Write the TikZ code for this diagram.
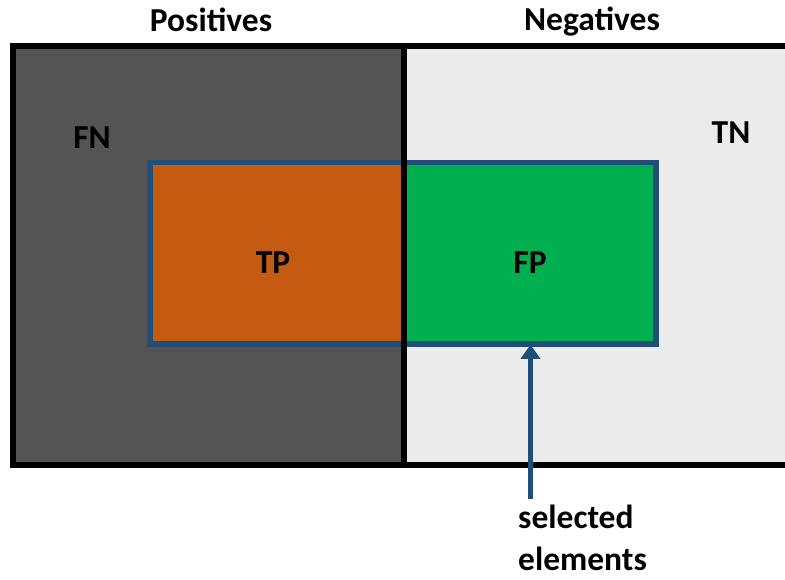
\documentclass[tikz,border=0pt]{standalone}
\usepackage{fontspec}
\setmainfont{Carlito}
\usetikzlibrary{arrows.meta}
\definecolor{fngray}{RGB}{84,84,84}
\definecolor{tngray}{RGB}{235,235,235}
\definecolor{tporange}{RGB}{197,90,17}
\definecolor{fpgreen}{RGB}{0,176,80}
\definecolor{selblue}{RGB}{31,78,121}
\begin{document}
\begin{tikzpicture}[x=1pt,y=-1pt,
  lbl/.style={font=\fontsize{33.5}{42}\selectfont\bfseries, inner sep=0pt},
  frame/.style={draw=black, line width=6pt},
  selbox/.style={draw=selblue, line width=5.5pt, inner sep=0pt},
  pointer/.style={draw=selblue, line width=5pt, -{Triangle[width=19pt,length=14pt]}}]
  \useasboundingbox (0,0) rectangle (785,580);
  \begin{scope}
    \clip (0,0) rectangle (785,580);
    % the two halves of the population
    \fill[fngray] (12.5,46) rectangle (403.5,464.5);
    \fill[tngray] (403.5,46) rectangle (800,464.5);
    % the selected elements, split by class
    \fill[tporange] (150,162.5) rectangle (403.5,344);
    \fill[fpgreen] (403.5,162.5) rectangle (656,344);
    \node[selbox, minimum width=506pt, minimum height=181.5pt] (sel) at (403,253.25) {};
    % outer frame and the class divider
    \draw[frame] (12.5,46) rectangle (800,464.5);
    \draw[frame] (403.5,46) coordinate (divtop) -- (403.5,464.5) coordinate (divbot);
  \end{scope}
  % labels
  \node[lbl] (pos) at (211,20) {Positives};
  \node[lbl] (neg) at (592,22) {Negatives};
  \node[lbl] (fn) at (92,138) {FN};
  \node[lbl] (tn) at (731,133) {TN};
  \node[lbl] (tp) at (273,263) {TP};
  \node[lbl] (fp) at (530,263) {FP};
  \node[lbl, align=left, anchor=north west] (caption) at (518,505) {selected\\elements};
  % pointer to the selection
  \coordinate (tail) at (530.5,499);
  \draw[pointer] (tail) -- ([yshift=2pt]sel.south -| tail);
\end{tikzpicture}
\end{document}
